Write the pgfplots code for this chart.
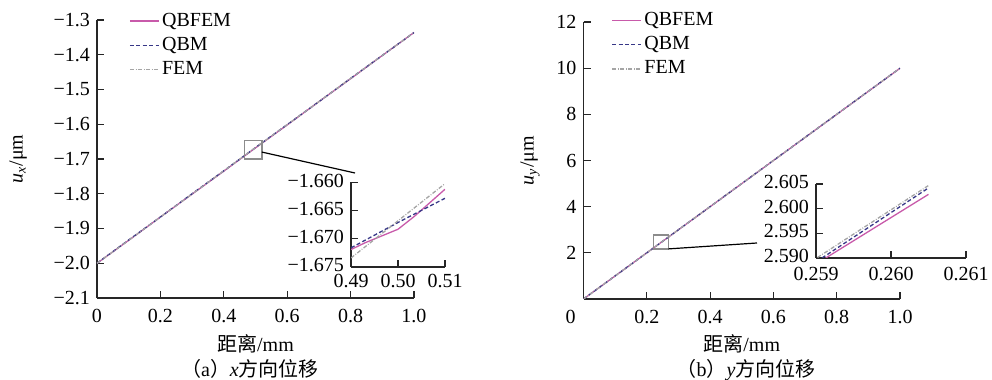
\documentclass[border=0pt]{standalone}
\usepackage{fontspec}
\setmainfont{Liberation Serif}
\newfontfamily\cjk{Noto Sans CJK SC}
\usepackage{pgfplots}
\pgfplotsset{compat=1.18}
\definecolor{cqbfem}{RGB}{200,90,170}
\definecolor{cqbm}{RGB}{55,55,135}
\definecolor{cfem}{RGB}{165,165,165}
\pgfplotsset{
  mystyle/.style={
    scale only axis, axis lines=left, axis line style={-, black!85, line width=0.6pt},
    tick align=inside, major tick length=3.5pt, tick style={black!85, line width=0.6pt},
    ticklabel style={font=\fontsize{10}{12}\selectfont},
    scaled ticks=false, clip=true,
    label style={font=\fontsize{10}{12}\selectfont},
  },
  qbfem/.style={draw=cqbfem, color=cqbfem, line width=0.65pt, solid},
  qbm/.style={draw=cqbm, color=cqbm, line width=0.65pt, dash pattern=on 2pt off 1.2pt},
  fem/.style={draw=cfem, color=cfem, line width=0.65pt, dash pattern=on 2pt off 0.8pt on 0.4pt off 0.8pt},
  mylegend/.style={
    legend style={draw=none, fill=none, at={(#1)}, anchor=north west,
      font=\fontsize{10}{11.5}\selectfont, inner sep=0pt, row sep=1.6pt,
      nodes={inner sep=1.2pt}},
    legend cell align=left,
    legend image code/.code={\draw[##1, line width=0.8pt] (0pt,0pt) -- (14.5pt,0pt);},
  },
}
\begin{document}
\begin{tikzpicture}
\path[use as bounding box] (0,0) rectangle (496pt,190pt);
% ---------------- (a) main
\begin{axis}[mystyle, at={(48.5pt,41pt)}, anchor=south west,
  width=158.5pt, height=139pt,
  xmin=0, xmax=1, ymin=-2.1, ymax=-1.3,
  xtick={0,0.2,0.4,0.6,0.8,1.0}, xticklabels={0,0.2,0.4,0.6,0.8,1.0},
  xticklabel shift=2pt,
  ytick={-2.1,-2.0,-1.9,-1.8,-1.7,-1.6,-1.5,-1.4,-1.3},
  yticklabels={−2.1,−2.0,−1.9,−1.8,−1.7,−1.6,−1.5,−1.4,−1.3},
  xlabel={{\cjk 距离}/mm},
  xlabel style={at={(axis description cs:0.5,-0.165)}, anchor=center},
  ylabel={\textit{u}\textsubscript{\textit{x}}/μm},
  ylabel style={at={(axis description cs:-0.249,0.5)}, anchor=center},
  mylegend={0.1,1.035},
]
\addplot[qbfem] coordinates {(0,-2.000) (0.1,-1.934) (0.2,-1.867) (0.3,-1.801) (0.4,-1.735) (0.5,-1.668) (0.6,-1.602) (0.7,-1.535) (0.8,-1.469) (0.9,-1.402) (1.0,-1.336)};
\addlegendentry{QBFEM}
\addplot[qbm] coordinates {(0,-2.000) (0.1,-1.933) (0.2,-1.867) (0.3,-1.800) (0.4,-1.734) (0.5,-1.667) (0.6,-1.601) (0.7,-1.535) (0.8,-1.468) (0.9,-1.402) (1.0,-1.336)};
\addlegendentry{QBM}
\addplot[fem] coordinates {(0,-2.000) (0.1,-1.934) (0.2,-1.867) (0.3,-1.801) (0.4,-1.734) (0.5,-1.667) (0.6,-1.601) (0.7,-1.535) (0.8,-1.468) (0.9,-1.402) (1.0,-1.336)};
\addlegendentry{FEM}
\draw[black!45, line width=0.8pt] (axis cs:0.465,-1.700) rectangle (axis cs:0.52,-1.647);
\coordinate (c1) at (axis cs:0.52,-1.68);
\end{axis}
% ---------------- (a) inset
\begin{axis}[mystyle, at={(175.5pt,56.5pt)}, anchor=south west,
  width=47pt, height=42.25pt,
  xmin=0.49, xmax=0.51, ymin=-1.675, ymax=-1.660,
  xtick={0.49,0.50,0.51}, xticklabels={0.49,0.50,0.51},
  ytick={-1.675,-1.670,-1.665,-1.660}, yticklabels={−1.675,−1.670,−1.665,−1.660},
  yticklabel style={yshift=1pt},
]
\addplot[qbfem] coordinates {(0.49,-1.6719) (0.493,-1.6707) (0.500,-1.6683) (0.5035,-1.6660) (0.51,-1.6612)};
\addplot[qbm] coordinates {(0.49,-1.6716) (0.50,-1.6671) (0.51,-1.6628)};
\addplot[fem] coordinates {(0.49,-1.6734) (0.51,-1.6602)};
\end{axis}
\draw[black, line width=0.6pt] (c1) -- (177.5pt,103.5pt);
% ---------------- (b) main
\begin{axis}[mystyle, at={(291.75pt,40.5pt)}, anchor=south west,
  width=158.25pt, height=138.5pt,
  xmin=0, xmax=1, ymin=0, ymax=12,
  xtick={0,0.2,0.4,0.6,0.8,1.0},
  xticklabels={\makebox[0pt][r]{0\hspace{4pt}},0.2,0.4,0.6,0.8,1.0},
  xticklabel shift=2pt,
  ytick={2,4,6,8,10,12}, yticklabels={2,4,6,8,10,12},
  xlabel={{\cjk 距离}/mm},
  xlabel style={at={(axis description cs:0.5,-0.162)}, anchor=center},
  ylabel={\textit{u}\textsubscript{\textit{y}}/μm},
  ylabel style={at={(axis description cs:-0.169,0.5)}, anchor=center},
  mylegend={0.087,1.045},
]
\addplot[qbfem] coordinates {(0,0) (0.26,2.599) (0.5,4.998) (1.0,9.995)};
\addlegendentry{QBFEM}
\addplot[qbm] coordinates {(0,0) (0.26,2.600) (0.5,5.000) (1.0,10.0)};
\addlegendentry{QBM}
\addplot[fem] coordinates {(0,0) (0.26,2.600) (0.5,5.000) (1.0,10.0)};
\addlegendentry{FEM}
\draw[black!45, line width=0.8pt] (axis cs:0.221,2.17) rectangle (axis cs:0.268,2.78);
\coordinate (c2) at (axis cs:0.268,2.17);
\end{axis}
% ---------------- (b) inset
\begin{axis}[mystyle, at={(408pt,61pt)}, anchor=south west,
  width=75pt, height=37pt,
  xmin=0.259, xmax=0.261, ymin=2.590, ymax=2.605,
  xtick={0.259,0.260,0.261}, xticklabels={0.259,0.260,0.261},
  xticklabel shift=1pt,
  ytick={2.590,2.595,2.600,2.605}, yticklabels={2.590,2.595,2.600,2.605},
  yticklabel style={yshift=1pt},
]
\addplot[qbfem] coordinates {(0.25913,2.5900) (0.2605,2.6029)};
\addplot[qbm] coordinates {(0.25908,2.5900) (0.2605,2.6042)};
\addplot[fem] coordinates {(0.25902,2.5901) (0.2605,2.6047)};
\end{axis}
\draw[black, line width=0.6pt] (c2) -- (378.5pt,68.5pt);
% captions
\node[font=\fontsize{10}{12}\selectfont, inner sep=0pt, anchor=base] at (125pt,1.8pt) {{\cjk （}a{\cjk ）}\textit{x}{\cjk 方向位移}};
\node[font=\fontsize{10}{12}\selectfont, inner sep=0pt, anchor=base] at (373pt,1.8pt) {{\cjk （}b{\cjk ）}\textit{y}{\cjk 方向位移}};
\end{tikzpicture}
\end{document}
